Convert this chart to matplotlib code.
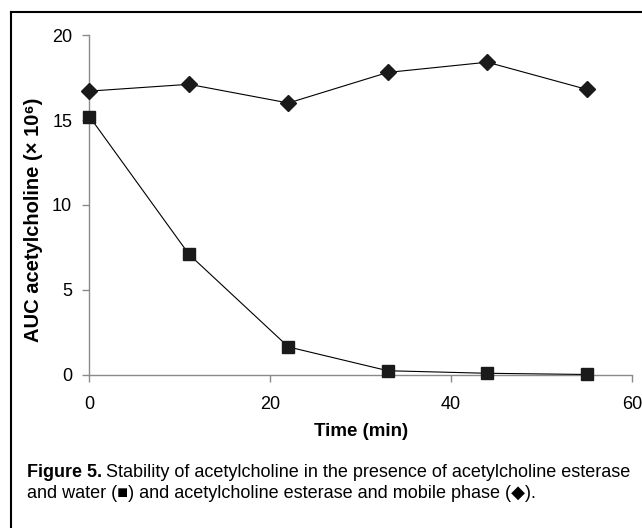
import matplotlib
matplotlib.use("Agg")
import matplotlib.pyplot as plt
from matplotlib.lines import Line2D

time_min = [0, 11, 22, 33, 44, 55]
water = [15.2, 7.1, 1.65, 0.25, 0.1, 0.03]
mobile_phase = [16.7, 17.1, 16.0, 17.8, 18.4, 16.8]

plt.rcParams['font.family'] = ['Liberation Sans', 'DejaVu Sans']

fig = plt.figure(figsize=(6.42, 5.28), dpi=100)
ax = fig.add_axes([0.1394, 0.2898, 0.8450, 0.6439])

ax.plot(time_min, mobile_phase, color="k", linewidth=0.8, marker="D",
        markersize=8.5, markerfacecolor="#1a1a1a", markeredgecolor="#1a1a1a", clip_on=False, zorder=3)
ax.plot(time_min, water, color="k", linewidth=0.8, marker="s",
        markersize=8.6, markerfacecolor="#1a1a1a", markeredgecolor="#1a1a1a", clip_on=False, zorder=3)

ax.set_xlim(0, 60)
ax.set_ylim(0, 20)
ax.set_xticks([0, 20, 40, 60])
ax.set_yticks([0, 5, 10, 15, 20])
for s in ["top", "right"]:
    ax.spines[s].set_visible(False)
for s in ["left", "bottom"]:
    ax.spines[s].set_color("#8a8a8a")
    ax.spines[s].set_linewidth(1.0)
ax.tick_params(colors="#8a8a8a", labelcolor="k", length=5, width=1.0, labelsize=13)
ax.tick_params(axis="x", pad=10)
ax.tick_params(axis="y", pad=7.5)

ax.set_xlabel("Time (min)", fontsize=13.5, fontweight="bold")
ax.set_ylabel("AUC acetylcholine (\u00d7 10\u2076)", fontsize=14.5, fontweight="bold")
ax.xaxis.set_label_coords(0.5, -0.142)
ax.yaxis.set_label_coords(-0.085, 0.456)

# frame around the figure (top and left only visible)
fig.add_artist(Line2D([11/642, 11/642], [0, 1 - 12/528], transform=fig.transFigure, color="k", linewidth=1.5))
fig.add_artist(Line2D([11/642, 1], [1 - 12/528, 1 - 12/528], transform=fig.transFigure, color="k", linewidth=1.5))

cap_font = ['Liberation Sans Narrow', 'Liberation Sans', 'DejaVu Sans']
t1 = fig.text(27/642, 1 - 477/528, "Figure 5.", fontsize=13, fontweight="bold",
              family=cap_font, va="baseline", ha="left")
fig.canvas.draw()
bb = t1.get_window_extent()
fig.text((bb.x1 + 4)/642, 1 - 477/528,
         "Stability of acetylcholine in the presence of acetylcholine esterase",
         fontsize=13, family=cap_font, va="baseline", ha="left")
fig.text(27/642, 1 - 498/528,
         "and water (\u25a0) and acetylcholine esterase and mobile phase (\u25c6).",
         fontsize=13, family=cap_font, va="baseline", ha="left")

fig.savefig("out.png", dpi=100)
